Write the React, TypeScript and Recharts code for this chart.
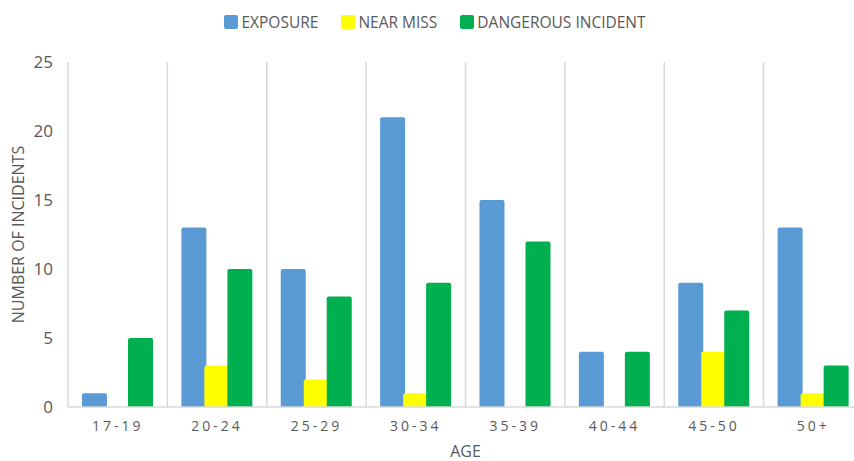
import React from 'react';
import { BarChart, Bar, XAxis, YAxis, CartesianGrid, Legend } from 'recharts';

const ageGroups = ['17-19', '20-24', '25-29', '30-34', '35-39', '40-44', '45-50', '50+'];
const exposure = [1, 13, 10, 21, 15, 4, 9, 13];
const nearMiss = [0, 3, 2, 1, 0, 0, 4, 1];
const dangerousIncident = [5, 10, 8, 9, 12, 4, 7, 3];
const yTicks = [0, 5, 10, 15, 20, 25];

const seriesInfo = [
  { key: 'exposure', name: 'EXPOSURE', color: '#5B9BD5' },
  { key: 'nearMiss', name: 'NEAR MISS', color: '#FFFF00' },
  { key: 'dangerous', name: 'DANGEROUS INCIDENT', color: '#00B050' },
];

const data = ageGroups.map((age, i) => ({
  age,
  exposure: exposure[i],
  nearMiss: nearMiss[i],
  dangerous: dangerousIncident[i],
}));

const FONT = '"Open Sans", "Noto Sans", sans-serif';
const TEXT = '#595959';

const LegendContent = () => (
  <div
    style={{
      height: 30,
      display: 'flex',
      justifyContent: 'center',
      alignItems: 'center',
      fontFamily: FONT,
      fontSize: 15.5,
      color: TEXT,
      paddingLeft: 6,
    }}
  >
    {seriesInfo.map((s, i) => (
      <div
        key={s.key}
        style={{ display: 'flex', alignItems: 'center', marginRight: i < seriesInfo.length - 1 ? 23 : 0 }}
      >
        <span
          style={{
            display: 'inline-block',
            width: 14,
            height: 14,
            borderRadius: 2,
            background: s.color,
            marginRight: 3,
          }}
        />
        <span>{s.name}</span>
      </div>
    ))}
  </div>
);

export default function App() {
  return (
    <div
      style={{
        position: 'fixed',
        left: 0,
        top: 0,
        width: 854,
        height: 461,
        overflow: 'hidden',
        background: '#ffffff',
      }}
    >
      <BarChart
        width={864}
        height={461}
        data={data}
        margin={{ top: 32, right: 1, bottom: 0, left: 0 }}
        barSize={25}
        barGap={-2}
      >
        <CartesianGrid
          horizontal={false}
          stroke="#d9d9d9"
          strokeWidth={1.5}
          verticalCoordinatesGenerator={({ offset }: any) =>
            ageGroups.map((_, i) => offset.left + (i * offset.width) / ageGroups.length)
          }
        />
        <XAxis
          dataKey="age"
          height={54}
          axisLine={{ stroke: '#d9d9d9', strokeWidth: 1.5 }}
          tickLine={false}
          tickSize={0}
          tickMargin={14}
          tick={{ fill: TEXT, fontSize: 14, fontFamily: FONT, letterSpacing: 3 }}
          label={{
            value: 'AGE',
            position: 'insideBottom',
            offset: 4,
            style: { fill: TEXT, fontSize: 16, fontFamily: FONT },
          }}
        />
        <YAxis
          width={68}
          domain={[0, 25]}
          ticks={yTicks}
          axisLine={false}
          tickLine={false}
          tickSize={0}
          tickMargin={15}
          tick={{ fill: TEXT, fontSize: 17, fontFamily: FONT }}
          label={{
            value: 'NUMBER OF INCIDENTS',
            angle: -90,
            position: 'insideLeft',
            offset: 18,
            style: { fill: TEXT, fontSize: 16, fontFamily: FONT, textAnchor: 'middle' },
          }}
        />
        <Legend
          verticalAlign="top"
          align="center"
          content={<LegendContent />}
          wrapperStyle={{ top: 7, left: 0, width: 864, height: 30 }}
        />
        {seriesInfo.map((s) => (
          <Bar
            key={s.key}
            dataKey={s.key}
            name={s.name}
            fill={s.color}
            radius={[2, 2, 0, 0]}
            isAnimationActive={false}
          />
        ))}
      </BarChart>
    </div>
  );
}
